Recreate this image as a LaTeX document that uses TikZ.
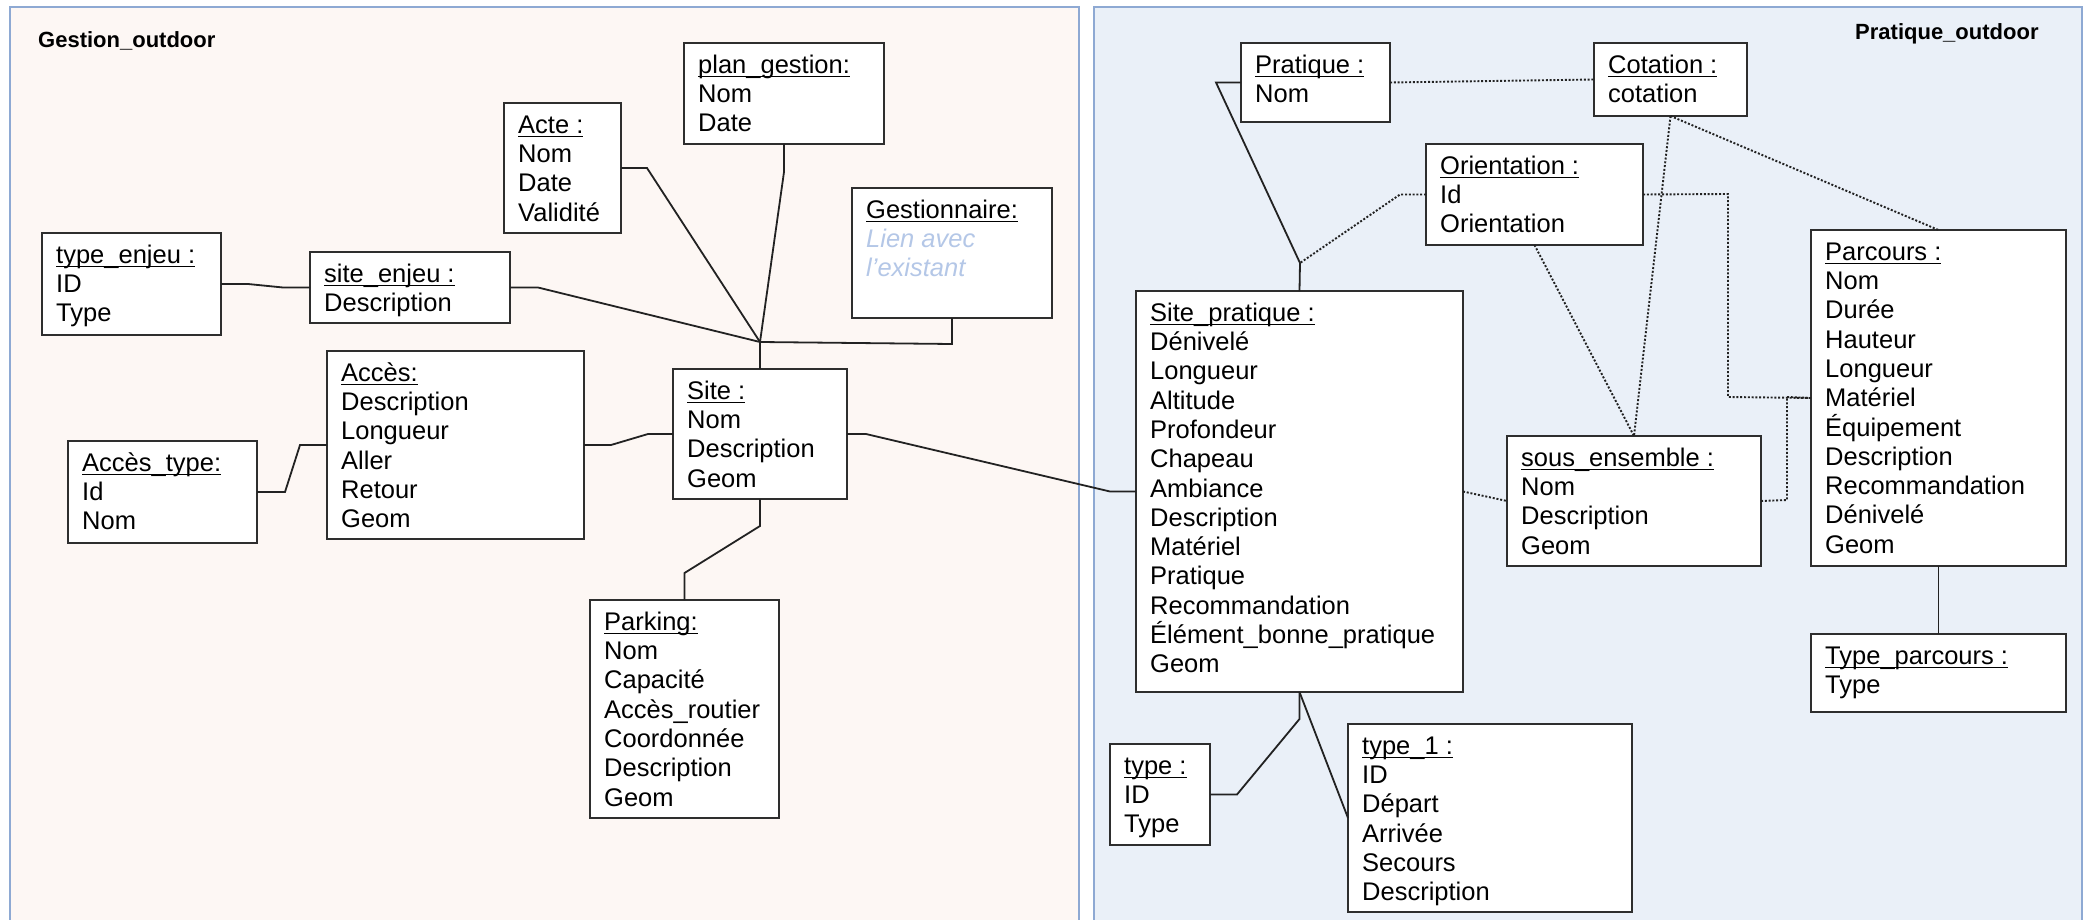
\documentclass[tikz,border=0pt]{standalone}
\usepackage{fontspec}
\setmainfont{Liberation Sans}
\definecolor{leftfill}{HTML}{FDF7F4}
\definecolor{rightfill}{HTML}{EAF0F8}
\definecolor{framecol}{HTML}{8EA9D3}
\definecolor{boxcol}{HTML}{2E2E2E}
\definecolor{linecol}{HTML}{222222}
\definecolor{gestblue}{HTML}{B4C7E7}
\newcommand\ulx[1]{\setbox0\hbox{#1}\rlap{\rule[-4pt]{\wd0}{1.5pt}}\box0}
\newcommand\entity[6]{%
  \node[ebox, minimum width=#4, minimum height=#5] (#1) at (#2,#3) {};
  \node[etext] (#1-t) at ([xshift=14pt,yshift=-9.5pt]#1.north west) {#6};
}
\begin{document}
\begin{tikzpicture}[x=1pt,y=-1pt,
  ebox/.style={draw=boxcol, line width=2pt, fill=white, anchor=north west, inner sep=0pt, outer sep=0pt},
  etext/.style={anchor=north west, inner sep=0pt, align=left, font={\fontsize{25.5}{29.3}\selectfont}, text=black},
  frame/.style={draw=framecol, line width=2.4pt},
  ttl/.style={font={\fontsize{22}{26}\selectfont\bfseries}, inner sep=0pt, anchor=base west},
  conn/.style={draw=linecol, line width=1.8pt},
  dconn/.style={draw=linecol, line width=1.9pt, dash pattern=on 2pt off 1.8pt}]
\clip (0,0) rectangle (2089,920);
\fill[white] (0,0) rectangle (2089,920);
% frames
\draw[frame, fill=leftfill] (10,7) rectangle (1079,950);
\draw[frame, fill=rightfill] (1094,7) rectangle (2082,950);
\node[ttl] (gtitle) at (38,48) {Gestion\_outdoor};
\node[ttl] (ptitle) at (1855,40) {Pratique\_outdoor};
% Gestion entities
\entity{pg}{684}{43}{200}{101}{\strut\ulx{plan\_gestion:}\\Nom\\Date}
\entity{acte}{504}{103}{117}{130}{\strut\ulx{Acte :}\\Nom\\Date\\Validité}
\entity{gest}{852}{188}{200}{130}{\strut\ulx{Gestionnaire:}\\{\itshape\color{gestblue}Lien avec}\\{\itshape\color{gestblue}l'existant}}
\entity{te}{42}{233}{179}{102}{\strut\ulx{type\_enjeu :}\\ID\\Type}
\entity{se}{310}{252}{200}{71}{\strut\ulx{site\_enjeu :}\\Description}
\entity{acces}{327}{351}{257}{188}{\strut\ulx{Accès:}\\Description\\Longueur\\Aller\\Retour\\Geom}
\entity{at}{68}{441}{189}{102}{\strut\ulx{Accès\_type:}\\Id\\Nom}
\entity{site}{673}{369}{174}{130}{\strut\ulx{Site :}\\Nom\\Description\\Geom}
\entity{park}{590}{600}{189}{218}{\strut\ulx{Parking:}\\Nom\\Capacité\\Accès\_routier\\Coordonnée\\Description\\Geom}
% Pratique entities
\entity{prat}{1241}{43}{149}{79}{\strut\ulx{Pratique :}\\Nom}
\entity{cot}{1594}{43}{153}{73}{\strut\ulx{Cotation :}\\cotation}
\entity{orient}{1426}{144}{217}{101}{\strut\ulx{Orientation :}\\Id\\Orientation}
\entity{sp}{1136}{291}{327}{401}{\strut\ulx{Site\_pratique :}\\Dénivelé\\Longueur\\Altitude\\Profondeur\\Chapeau\\Ambiance\\Description\\Matériel\\Pratique\\Recommandation\\Élément\_bonne\_pratique\\Geom}
\entity{sous}{1507}{436}{254}{130}{\strut\ulx{sous\_ensemble :}\\Nom\\Description\\Geom}
\entity{parc}{1811}{230}{255}{336}{\strut\ulx{Parcours :}\\Nom\\Durée\\Hauteur\\Longueur\\Matériel\\Équipement\\Description\\Recommandation\\Dénivelé\\Geom}
\entity{tparc}{1811}{634}{255}{78}{\strut\ulx{Type\_parcours :}\\Type}
\entity{typ}{1110}{744}{100}{101}{\strut\ulx{type :}\\ID\\Type}
\entity{tone}{1348}{724}{284}{188}{\strut\ulx{type\_1 :}\\ID\\Départ\\Arrivée\\Secours\\Description}
% junctions
\coordinate (j1) at (760,342);
\coordinate (j2) at (1300,263);
% Gestion connectors
\draw[conn] (te.east) -- ++(27,0) -- ([xshift=-27pt]se.west) -- (se.west);
\draw[conn] (se.east) -- ++(28,0) -- (j1);
\draw[conn] (acte.east) -- ++(26,0) -- (j1);
\draw[conn] (pg.south) -- ++(0,28) -- (j1);
\draw[conn] (gest.south) -- ++(0,26) -- (j1);
\draw[conn] (j1) -- (site.north);
\draw[conn] (at.east) -- ++(28,0) -- ([xshift=-27pt]acces.west) -- (acces.west);
\draw[conn] (acces.east) -- ++(27,0) -- ([xshift=-25pt]site.west) -- (site.west);
\draw[conn] (site.south) -- ++(0,27) -- ([yshift=27pt]park.north) -- (park.north);
\draw[conn] (site.east) -- ++(19,0) -- ([xshift=-26pt]sp.west) -- (sp.west);
% Pratique connectors
\draw[conn] (prat.west) -- ++(-25,0) -- (j2);
\draw[conn] (j2) -- (sp.north);
\draw[dconn] (orient.west) -- ++(-26,0) -- (j2);
\draw[dconn] (prat.east) -- (cot.west);
\draw[dconn] (cot.south) -- (sous.north);
\draw[dconn] (cot.south) -- (parc.north);
\draw[dconn] (orient.south) -- (sous.north);
\draw[dconn] (orient.east) -- (1728,194) -- (1728,397) -- (parc.west);
\draw[dconn] (sous.east) -- (1787,500) -- (1787,397) -- (parc.west);
\draw[dconn] (sp.east) -- (sous.west);
\draw[conn] (parc.south) -- (tparc.north);
\draw[conn] (typ.east) -- ++(27,0) -- ([yshift=-27pt]sp.south) -- (sp.south);
\draw[conn] (sp.south) -- (tone.west);
\end{tikzpicture}
\end{document}
